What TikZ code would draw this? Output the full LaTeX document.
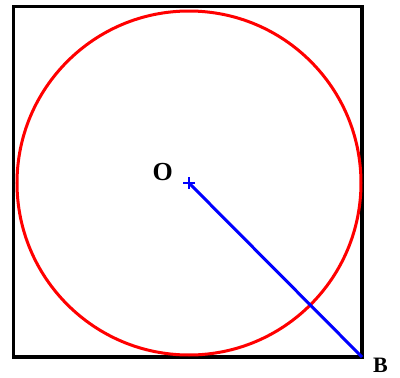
\documentclass[tikz,border=0pt]{standalone}
\usepackage{fontspec}
\setmainfont{Liberation Serif}
\usetikzlibrary{positioning,calc}

\begin{document}
\begin{tikzpicture}[
    x=1pt, y=-1pt,
    frame/.style = {draw=black, line width=3.4pt},
    ring/.style = {draw=red, line width=3pt},
    radius line/.style = {draw=blue, line width=3pt},
    letter/.style = {font=\fontsize{#1}{#1}\selectfont\bfseries, inner sep=0pt},
    letter/.default = 26
]
    \useasboundingbox (0,0) rectangle (400,378);

    % 1. Points
    \coordinate (center) at (189,183);
    \coordinate (corner) at (362,357);

    % 2. Square and circle
    \draw [frame] (13.5,6.5) rectangle (corner);
    \draw [ring] (center) circle [radius=172];

    % 3. Radius to the corner
    \draw [radius line] (center) -- (corner);
    \draw [draw=blue, line width=2pt] ($(center)+(-6,0)$) -- ($(center)+(6,0)$)
        ($(center)+(0,-6)$) -- ($(center)+(0,6)$);

    % 4. Labels
    \node [letter, left=16pt of center, yshift=11pt] (O) {O};
    \node [letter=22, below right=1pt and 11pt of corner] (B) {B};
\end{tikzpicture}
\end{document}
